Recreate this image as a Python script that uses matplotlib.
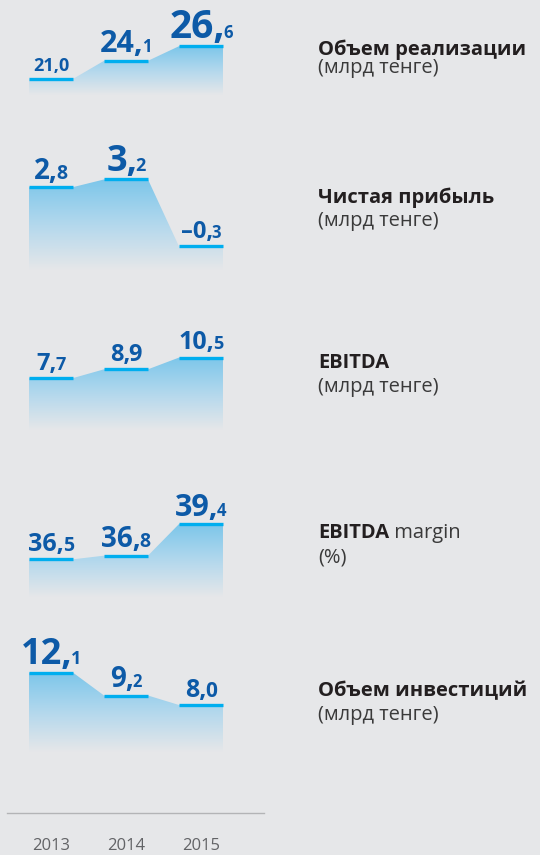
import numpy as np
import matplotlib
matplotlib.use('Agg')
import matplotlib.pyplot as plt
from matplotlib.colors import LinearSegmentedColormap
from matplotlib.patches import Polygon

# data
years = ['2013', '2014', '2015']
sales = [21.0, 24.1, 26.6]
net_income = [2.8, 3.2, -0.3]
ebitda = [7.7, 8.9, 10.5]
ebitda_margin = [36.5, 36.8, 39.4]
investments = [12.1, 9.2, 8.0]

titles = ['Объем реализации', 'Чистая прибыль', 'EBITDA', 'EBITDA', 'Объем инвестиций']
title_extra = ['', '', '', ' margin', '']
units = ['(млрд тенге)', '(млрд тенге)', '(млрд тенге)', '(%)', '(млрд тенге)']

series = [sales, net_income, ebitda, ebitda_margin, investments]

# layout (pixels): fill bottom, value at fill bottom, px per unit, panel top
layout = [
    (95, 18.25, 5.845, 0),
    (270, -1.53, 19.14, 115),
    (430, 0.62, 7.33, 290),
    (597, 33.4, 12.16, 460),
    (752, 2.05, 7.9, 615),
]
# label font sizes (integer part, decimal part)
label_sizes = [
    [(13, 13), (22, 12), (28, 12)],
    [(20, 14), (26, 13), (17, 12)],
    [(17, 13), (17, 17), (18, 13)],
    [(18, 14), (20, 14), (22, 12)],
    [(26, 13), (20, 12), (18, 15)],
]
title_baselines = [(55, 73), (203, 226), (368, 392), (538, 563), (696, 720)]

W, H = 540, 855
bg = '#e6e7e9'
bar_color = '#00aeef'
num_color = '#0d5aa7'
hw = 0.293

plt.rcParams['font.family'] = ['Open Sans', 'DejaVu Sans']
fig = plt.figure(figsize=(W / 100, H / 100), dpi=100, facecolor=bg)

cmap = LinearSegmentedColormap.from_list('fade', [bg, '#b3d8ed', '#7cc6ea'])
grad = np.linspace(0, 1, 256).reshape(-1, 1)

labels = []
for k, vals in enumerate(series):
    bot_px, vbot, scale, top_px = layout[k]
    ax = fig.add_axes([13.5 / W, 1 - bot_px / H, 225 / W, (bot_px - top_px) / H])
    ax.set_facecolor('none')
    ax.axis('off')
    x = np.arange(len(vals))
    vtop = vbot + (bot_px - top_px) / scale

    verts = [(x[0] - hw, vbot)]
    for xi, v in zip(x, vals):
        verts += [(xi - hw, v), (xi + hw, v)]
    verts.append((x[-1] + hw, vbot))
    poly = Polygon(verts, closed=True, facecolor='none', edgecolor='none')
    ax.add_patch(poly)
    im = ax.imshow(grad, extent=(-0.5, 2.5, vbot, max(vals)), origin='lower',
                   cmap=cmap, aspect='auto', zorder=1, interpolation='bicubic')
    im.set_clip_path(poly)

    ax.hlines(vals, x - hw, x + hw, color=bar_color, lw=2.4, zorder=3)
    ax.set_xlim(-0.5, 2.5)
    ax.set_ylim(vbot, vtop)

    for xi, v, (s1, s2) in zip(x, vals, label_sizes[k]):
        txt = f'{v:.1f}'.replace('.', ',').replace('-', '–')
        big, small = txt[:-1], txt[-1]
        t1 = ax.annotate(big, xy=(xi, v), xytext=(0, 6), textcoords='offset points',
                         ha='left', va='baseline', fontsize=s1, fontweight='bold',
                         color=num_color, annotation_clip=False)
        t2 = ax.annotate(small, xy=(xi, v), xytext=(0, 6), textcoords='offset points',
                         ha='left', va='baseline', fontsize=s2, fontweight='bold',
                         color=num_color, annotation_clip=False)
        labels.append((t1, t2, s1))

    b1, b2 = title_baselines[k]
    t = fig.text(318 / W, 1 - b1 / H, titles[k], fontsize=14.5, fontweight='bold',
                 color='#231f20', va='baseline', ha='left')
    if title_extra[k]:
        ax.annotate(title_extra[k], xy=(1, 0), xycoords=t, fontsize=14.5,
                    color='#3a3a3a', va='bottom', ha='left', annotation_clip=False)
    fig.text(318 / W, 1 - b2 / H, units[k], fontsize=14.5, color='#3a3a3a',
             va='baseline', ha='left')

# year axis
yax = fig.add_axes([7 / W, 0, 257 / W, (H - 813) / H])
yax.set_facecolor('none')
yax.set_xlim(-0.587, 2.84)
yax.set_ylim(0, 1)
for s in ['left', 'right', 'bottom']:
    yax.spines[s].set_visible(False)
yax.spines['top'].set_color('#b3b4b6')
yax.spines['top'].set_linewidth(1.0)
yax.set_xticks([])
yax.set_yticks([])
for i, yr in enumerate(years):
    yax.text(i, 0.12, yr, ha='center', va='baseline', fontsize=12, color='#626366')

# center the split number labels, pulling the decimal digit close to the comma
fig.canvas.draw()
r = fig.canvas.get_renderer()
for t1, t2, s1 in labels:
    w1 = t1.get_window_extent(r).width * 72 / 100
    w2 = t2.get_window_extent(r).width * 72 / 100
    kern = 0.06 * s1
    total = w1 + w2 - kern
    gap = 6
    t1.set_position((-total / 2, gap))
    t2.set_position((-total / 2 + w1 - kern, gap))

fig.savefig('out.png', dpi=100, facecolor=bg)
